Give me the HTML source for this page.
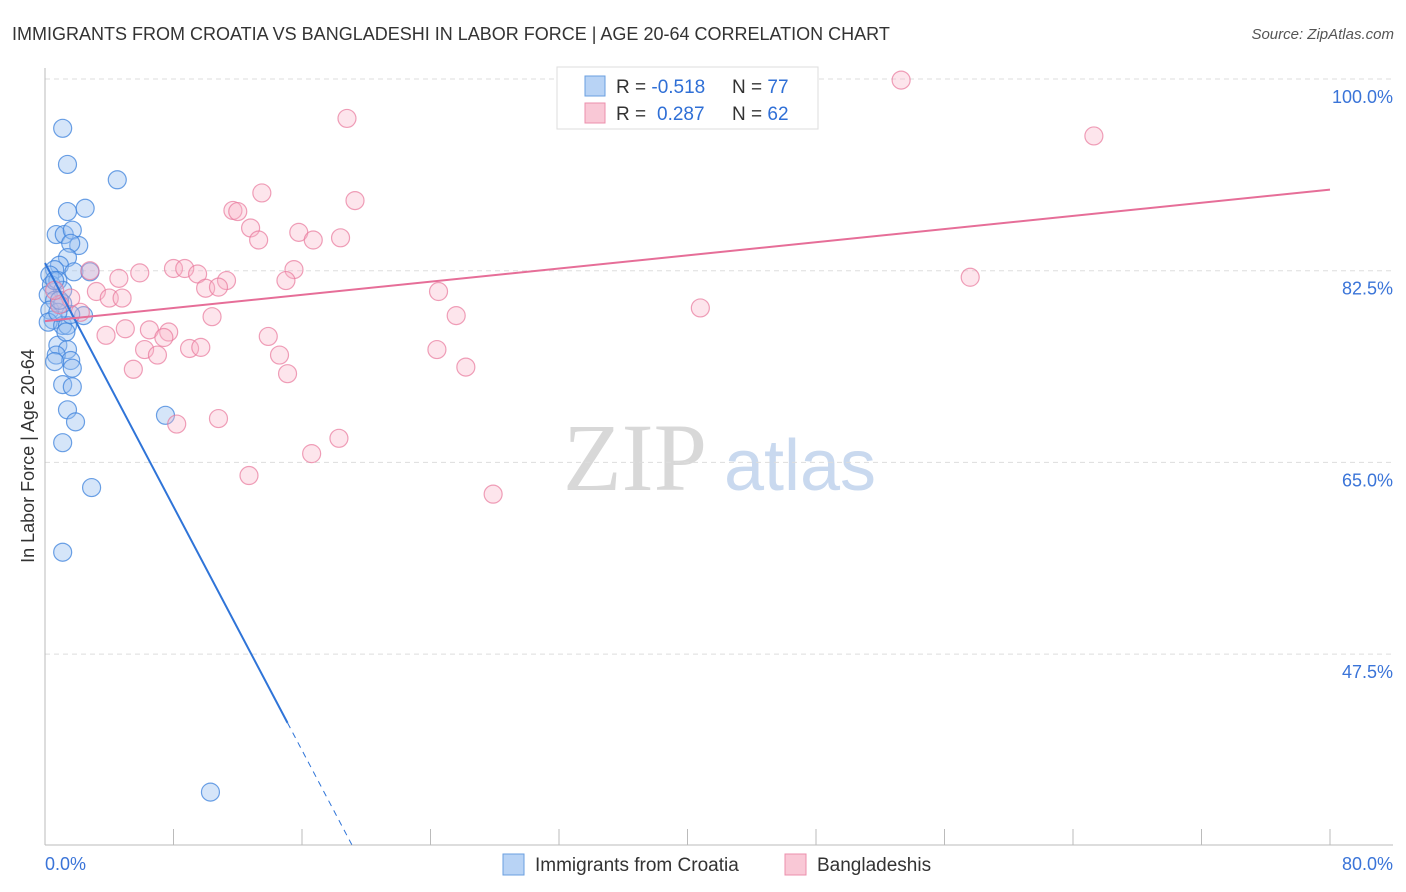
<!DOCTYPE html>
<html><head><meta charset="utf-8"><style>
body{margin:0;background:#fff;font-family:"Liberation Sans",sans-serif}
svg{display:block}
</style></head><body>
<svg id="c" width="1406" height="892" xmlns="http://www.w3.org/2000/svg">
<text x="12" y="40" font-size="18" fill="#333">IMMIGRANTS FROM CROATIA VS BANGLADESHI IN LABOR FORCE | AGE 20-64 CORRELATION CHART</text>
<text x="1394" y="39" font-size="15" fill="#555" font-style="italic" text-anchor="end">Source: ZipAtlas.com</text>
<text x="34" y="456" font-size="18" fill="#333" text-anchor="middle" transform="rotate(-90 34 456)">In Labor Force | Age 20-64</text>
<g>
<text x="635" y="490" font-size="96" font-family="Liberation Serif,serif" fill="#d8d8d8" text-anchor="middle">ZIP</text>
<text x="800" y="490" font-size="72" fill="#c9d9ef" text-anchor="middle">atlas</text>
</g>
<g id="grid"></g><g id="axes"></g><g id="pts"></g><g id="lines"></g>
<g>
<rect x="557" y="67" width="261" height="62" fill="#fff" stroke="#ddd"/>
<rect x="585" y="76" width="20" height="20" fill="#b8d3f5" stroke="#6a9fe0"/>
<rect x="585" y="103" width="20" height="20" fill="#f9c8d6" stroke="#ec8fac"/>
<text x="616" y="93" font-size="19" fill="#333">R = <tspan fill="#2f6fd6">-0.518</tspan><tspan x="732">N = </tspan><tspan fill="#2f6fd6">77</tspan></text>
<text x="616" y="120" font-size="19" fill="#333">R = <tspan x="657" fill="#2f6fd6">0.287</tspan><tspan x="732">N = </tspan><tspan fill="#2f6fd6">62</tspan></text>
</g>
<g>
<rect x="503" y="854" width="21" height="21" fill="#b8d3f5" stroke="#6a9fe0"/>
<text x="535" y="871" font-size="19" fill="#333">Immigrants from Croatia</text>
<rect x="785" y="854" width="21" height="21" fill="#f9c8d6" stroke="#ec8fac"/>
<text x="817" y="871" font-size="19" fill="#333">Bangladeshis</text>
</g>
</svg>
<script>
const blueX=[1.1,1.4,4.5,1.4,2.5,0.7,1.2,1.7,2.1,1.6,1.4,0.9,0.6,0.3,0.4,0.8,1.1,0.2,0.6,0.3,0.5,0.2,1.1,1.4,2.4,1.6,0.8,1.4,0.7,1.6,1.7,0.6,1.1,1.7,1.4,1.9,1.1,2.9,7.5,1.1,10.3,1.8,2.8,1.1,0.8,1.3,0.6,0.9];
const blueY=[95.5,92.2,90.8,87.9,88.2,85.8,85.8,86.2,84.8,85.0,83.7,83.0,82.6,82.1,81.2,81.6,80.7,80.3,79.8,78.9,78.0,77.8,77.5,77.5,78.4,78.5,75.7,75.3,74.8,74.3,73.6,74.2,72.1,71.9,69.8,68.7,66.8,62.7,69.3,56.8,34.9,82.4,82.4,79.5,78.7,76.9,81.6,79.8];
const pinkX=[53.3,18.8,65.3,13.5,19.3,11.7,12.0,12.8,15.8,13.3,16.7,18.4,57.6,2.8,4.6,5.9,8.0,8.7,9.5,11.3,15.5,15.0,10.0,10.8,24.5,3.2,4.0,4.8,1.6,0.9,40.8,10.4,25.6,3.8,5.0,6.5,7.7,7.4,13.9,6.2,7.0,9.0,9.7,14.6,24.4,5.5,15.1,26.2,8.2,10.8,18.3,16.6,12.7,27.9,0.6,2.2];
const pinkY=[99.9,96.4,94.8,89.6,88.9,88.0,87.9,86.4,86.0,85.3,85.3,85.5,81.9,82.5,81.8,82.3,82.7,82.7,82.2,81.6,82.6,81.6,80.9,81.0,80.6,80.6,80.0,80.0,80.0,79.4,79.1,78.3,78.4,76.6,77.2,77.1,76.9,76.4,76.5,75.3,74.8,75.4,75.5,74.8,75.3,73.5,73.1,73.7,68.5,69.0,67.2,65.8,63.8,62.1,80.7,78.7];
const yTicks=[100,82.5,65,47.5];
const yTickLabels=["100.0%","82.5%","65.0%","47.5%"];
const xTicks=[0,8,16,24,32,40,48,56,64,72,80];
const blueTrend=[83.2,-2.78,15.1,19.1]; // intercept, slope, solid end, dashed end
const pinkTrend=[77.9,0.15];
const NS="http://www.w3.org/2000/svg";
const sx=v=>45+v*(1285/80);
const sy=v=>79+(100-v)*10.954;
function mk(tag,attrs,parent){const e=document.createElementNS(NS,tag);for(const k in attrs)e.setAttribute(k,attrs[k]);document.getElementById(parent).appendChild(e);return e;}
yTicks.forEach((t,i)=>{
 const g=mk('line',{x1:45,x2:1393,y1:sy(t),y2:sy(t),stroke:'#ddd','stroke-dasharray':'5,4'},'grid');
 
 
 const l=mk('text',{x:1393,y:sy(t)+24,'font-size':18,fill:'#3a74d8','text-anchor':'end'},'grid');
 l.textContent=yTickLabels[i];
 
 
});
const ax=mk('line',{x1:45,x2:1393,y1:845,y2:845,stroke:'#bbb'},'axes');


const ay=mk('line',{x1:45,x2:45,y1:68,y2:845,stroke:'#bbb'},'axes');


xTicks.forEach(t=>{
 const k=mk('line',{x1:sx(t),x2:sx(t),y1:829,y2:845,stroke:'#bbb'},'axes');
 
 
});
const x0=mk('text',{x:45,y:870,'font-size':18,fill:'#3a74d8'},'axes');x0.textContent='0.0%';


const x1=mk('text',{x:1393,y:870,'font-size':18,fill:'#3a74d8','text-anchor':'end'},'axes');x1.textContent='80.0%';


blueX.forEach((x,i)=>{
 const c=mk('circle',{cx:sx(x),cy:sy(blueY[i]),r:9,fill:'rgba(150,190,240,0.4)',stroke:'rgba(60,130,220,0.75)','stroke-width':1.2},'pts');
 
 
});
pinkX.forEach((x,i)=>{
 const c=mk('circle',{cx:sx(x),cy:sy(pinkY[i]),r:9,fill:'rgba(248,180,200,0.35)',stroke:'rgba(232,120,155,0.7)','stroke-width':1.2},'pts');
 
 
});
const bt=v=>blueTrend[0]+blueTrend[1]*v;
const b1=mk('line',{x1:sx(0),y1:sy(bt(0)),x2:sx(blueTrend[2]),y2:sy(bt(blueTrend[2])),stroke:'#2f74d8','stroke-width':2},'lines');


const b2=mk('line',{x1:sx(blueTrend[2]),y1:sy(bt(blueTrend[2])),x2:sx(blueTrend[3]),y2:sy(bt(blueTrend[3])),stroke:'#2f74d8','stroke-width':1,'stroke-dasharray':'6,5'},'lines');


const pt=v=>pinkTrend[0]+pinkTrend[1]*v;
const p1=mk('line',{x1:sx(0),y1:sy(pt(0)),x2:sx(80),y2:sy(pt(80)),stroke:'#e66e98','stroke-width':2},'lines');


</script>
</body></html>
